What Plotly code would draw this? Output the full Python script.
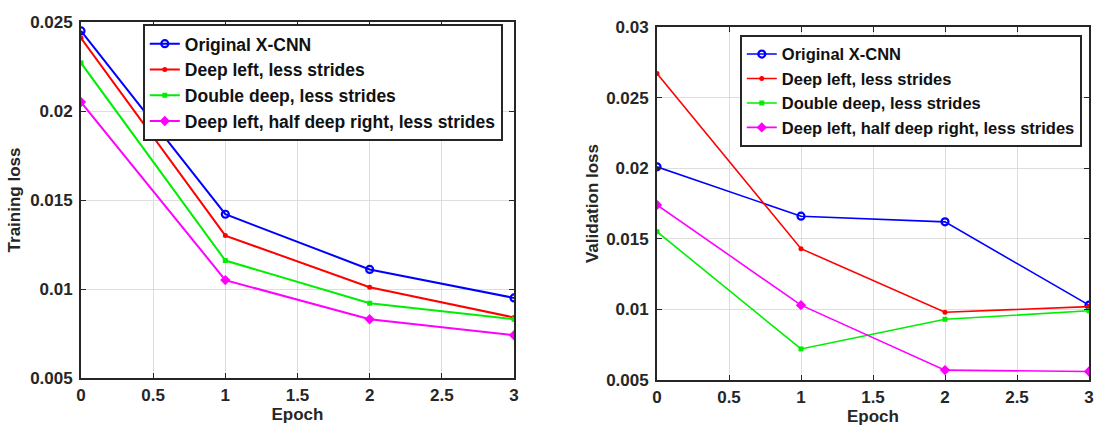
import plotly.graph_objects as go

epochs = [0, 1, 2, 3]
series_names = [
    "Original X-CNN",
    "Deep left, less strides",
    "Double deep, less strides",
    "Deep left, half deep right, less strides",
]
train_loss = [
    [0.0245, 0.0142, 0.0111, 0.0095],
    [0.0241, 0.0130, 0.0101, 0.0084],
    [0.0227, 0.0116, 0.0092, 0.0083],
    [0.0205, 0.0105, 0.0083, 0.0074],
]
val_loss = [
    [0.0201, 0.0166, 0.0162, 0.0103],
    [0.0267, 0.0143, 0.0098, 0.0102],
    [0.0155, 0.0072, 0.0093, 0.0099],
    [0.0174, 0.0103, 0.0057, 0.0056],
]
x_ticks = [0, 0.5, 1, 1.5, 2, 2.5, 3]
x_tick_text = ["0", "0.5", "1", "1.5", "2", "2.5", "3"]
train_ticks = [0.005, 0.01, 0.015, 0.02, 0.025]
train_tick_text = ["0.005", "0.01", "0.015", "0.02", "0.025"]
val_ticks = [0.005, 0.01, 0.015, 0.02, 0.025, 0.03]
val_tick_text = ["0.005", "0.01", "0.015", "0.02", "0.025", "0.03"]

colors = ["#0000ff", "#ff0000", "#00ee00", "#ff00ff"]
markers = [
    dict(symbol="circle-open", size=7, line=dict(width=2.2)),
    dict(symbol="circle", size=5),
    dict(symbol="square", size=5),
    dict(symbol="diamond", size=8),
]

W, H = 1096, 428
FONT = "Liberation Sans, Arial, sans-serif"
AXC = "#262626"

fig = go.Figure()

for i, name in enumerate(series_names):
    fig.add_trace(go.Scatter(
        x=epochs, y=train_loss[i], name=name, mode="lines+markers",
        line=dict(color=colors[i], width=2),
        marker=dict(color=colors[i], **markers[i]),
        xaxis="x", yaxis="y", legend="legend",
    ))
for i, name in enumerate(series_names):
    fig.add_trace(go.Scatter(
        x=epochs, y=val_loss[i], name=name, mode="lines+markers",
        line=dict(color=colors[i], width=1.6),
        marker=dict(color=colors[i], **markers[i]),
        xaxis="x2", yaxis="y2", legend="legend2",
    ))


def xdom(a, b):
    return [a / W, b / W]


def ydom(top, bottom):
    return [1 - bottom / H, 1 - top / H]


axis_common = dict(
    showline=True, linecolor=AXC, linewidth=1.8, mirror="ticks",
    ticks="inside", ticklen=5, tickcolor=AXC, tickwidth=1.2,
    showgrid=True, gridcolor="#dedede", gridwidth=1,
    zeroline=False, automargin=False,
    tickfont=dict(family=FONT, size=17, color="#262626", weight="bold"),
)
title_font = dict(family=FONT, size=17, color="#262626", weight="bold")

fig.update_layout(
    width=W, height=H,
    margin=dict(l=0, r=0, t=0, b=0),
    paper_bgcolor="white", plot_bgcolor="white",
    xaxis=dict(domain=xdom(81, 514), range=[0, 3], anchor="y",
               tickvals=x_ticks, ticktext=x_tick_text, ticklabelstandoff=1,
               title=dict(text="Epoch", font=title_font, standoff=4), **axis_common),
    yaxis=dict(domain=ydom(22, 378), range=[0.005, 0.025], anchor="x",
               tickvals=train_ticks, ticktext=train_tick_text, ticklabelstandoff=3,
               title=dict(text="Training loss", font=title_font, standoff=5), **axis_common),
    xaxis2=dict(domain=xdom(657, 1089), range=[0, 3], anchor="y2",
                tickvals=x_ticks, ticktext=x_tick_text, ticklabelstandoff=1,
                title=dict(text="Epoch", font=title_font, standoff=4), **axis_common),
    yaxis2=dict(domain=ydom(27, 380), range=[0.005, 0.03], anchor="x2",
                tickvals=val_ticks, ticktext=val_tick_text, ticklabelstandoff=3,
                title=dict(text="Validation loss", font=title_font, standoff=3), **axis_common),
    legend=dict(x=143 / W, y=1 - 24 / H, xanchor="left", yanchor="top",
                bgcolor="white", bordercolor=AXC, borderwidth=1.8,
                font=dict(family=FONT, size=17.5, color="#111111", weight="bold"),
                tracegroupgap=0, itemwidth=30),
    legend2=dict(x=740 / W, y=1 - 35 / H, xanchor="left", yanchor="top",
                 bgcolor="white", bordercolor=AXC, borderwidth=1.8,
                 font=dict(family=FONT, size=16.5, color="#111111", weight="bold"),
                 tracegroupgap=0, itemwidth=30),
)

fig.write_html("out.html")
